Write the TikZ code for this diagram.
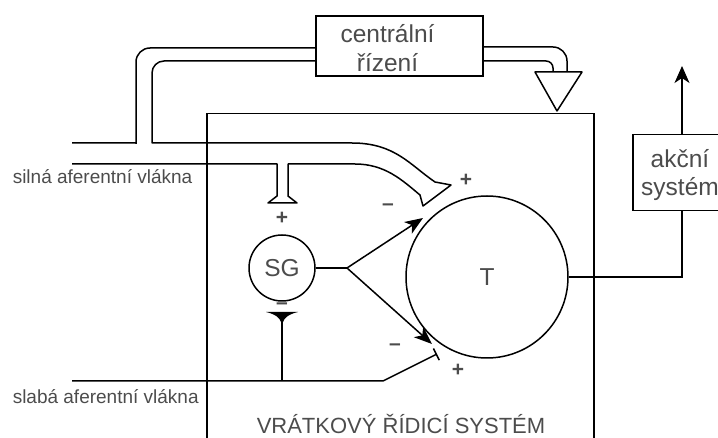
\documentclass[tikz,border=0pt]{standalone}
\usepackage{fontspec}
\setmainfont{Liberation Sans}
\usetikzlibrary{arrows.meta}

\begin{document}
\begin{tikzpicture}[x=1pt, y=-1pt, line width=1.5pt, font=\fontsize{22}{28}\selectfont]

    \useasboundingbox (0,0) rectangle (718,438);
    \clip (0,0) rectangle (718,438);

    \tikzset{txt/.style={text=black!70, inner sep=0pt},
             big/.style={txt, font=\fontsize{24.5}{28.5}\selectfont},
             small/.style={txt, font=\fontsize{19}{22}\selectfont},
             sign/.style={txt, font=\fontsize{21}{22}\selectfont\bfseries},
             inh/.style={-{Stealth[length=18pt,width=14pt,inset=5pt]}},
             exc/.style={-{Bar[width=13pt]}}}

    % Boxes
    \node[draw, minimum width=167pt, minimum height=60pt] (ctrl) at (399.5,46) {};
    \node[big, align=center] (ctrltxt) at ([xshift=-12pt,yshift=-2pt]ctrl.center) {centrální\\řízení};
    \node[draw, minimum width=140pt, minimum height=76pt, anchor=north west] (akce) at (632,134) {};
    \node[big, align=center] (akcetxt) at (680,175) {akční\\systém};
    \node[draw, minimum width=387pt, minimum height=360pt, anchor=north west] (gate) at (206,113) {};
    \node[txt] (gatetxt) at (401,424) {VRÁTKOVÝ ŘÍDICÍ SYSTÉM};

    % Cells
    \node[draw, circle, minimum size=66pt, inner sep=0pt, big] (sg) at (282,268) {SG};
    \node[draw, circle, minimum size=162pt, inner sep=0pt, big] (t) at (487,277) {T};

    % Fibre labels
    \node[small, anchor=base west] (silna) at (12,184) {silná aferentní vlákna};
    \node[small, anchor=base west] (slaba) at (12,403) {slabá aferentní vlákna};

    \coordinate (br) at (347,268);
    \coordinate (inhU) at (423,218);
    \coordinate (inhL) at (432,344);
    \coordinate (wl) at (72,381);
    \coordinate (wj) at (282,381);
    \coordinate (wk) at (383,381);
    \coordinate (exL) at (437,354);
    \coordinate (out) at (682,277);
    \coordinate (up) at (682,66);
    \coordinate (tri) at (557,111);

    % Central control -> gate (double pipe + triangle)
    \draw[rounded corners=14] ([yshift=-1pt]ctrl.east) -| (567,72);
    \draw[rounded corners=7] ([yshift=-15pt]ctrl.east) -| (553,72);
    \draw[line join=round] (535,72) -- (582,72) -- (tri) -- cycle;

    % Central control -> left, joins strong fibres
    \draw ([yshift=-2pt]ctrl.west) [rounded corners=14] -| (136,130) [sharp corners] -- (136,143) -- (72,143);
    \draw[line join=round] (72,164) -- (277,164) -- (277,196) -- (268,203) -- (297,203) -- (288,196) -- (288,164) -- (355,164)
        .. controls (385,164) and (402,180) .. (420,195) -- (423,206) -- (451,185) -- (435,182)
        .. controls (410,165) and (395,143) .. (352,143) -- (152,143) -- (152,130)
        [rounded corners=12] |- ([yshift=-15pt]ctrl.west);

    % SG outputs
    \draw (sg.east) -- (br);
    \draw[inh] (br) -- (inhU);
    \draw[inh] (br) -- (inhL);

    % Weak fibres
    \draw[exc] (wl) -- (wk) -- (exL);
    \draw (wj) -- (282,320);
    \fill (266,312) -- (298,312) .. controls (289,314) and (284,318) .. (283,322) -- (281,322)
        .. controls (280,318) and (275,314) .. cycle;

    % T output
    \draw (t.east) -- (out) -- (akce.south -| out);
    \draw[-{Stealth[length=17pt,width=15pt,inset=5pt]}] (akce.north -| out) -- (up);

    % Signs
    \node[sign] (p1) at (282,218) {+};
    \node[sign] (p2) at (466,180) {+};
    \node[sign] (p3) at (458,370) {+};
    \node[sign] (m1) at (388,207) {--};
    \node[sign] (m2) at (395,347) {--};
    \node[sign] (m3) at (282,306) {--};

\end{tikzpicture}
\end{document}
